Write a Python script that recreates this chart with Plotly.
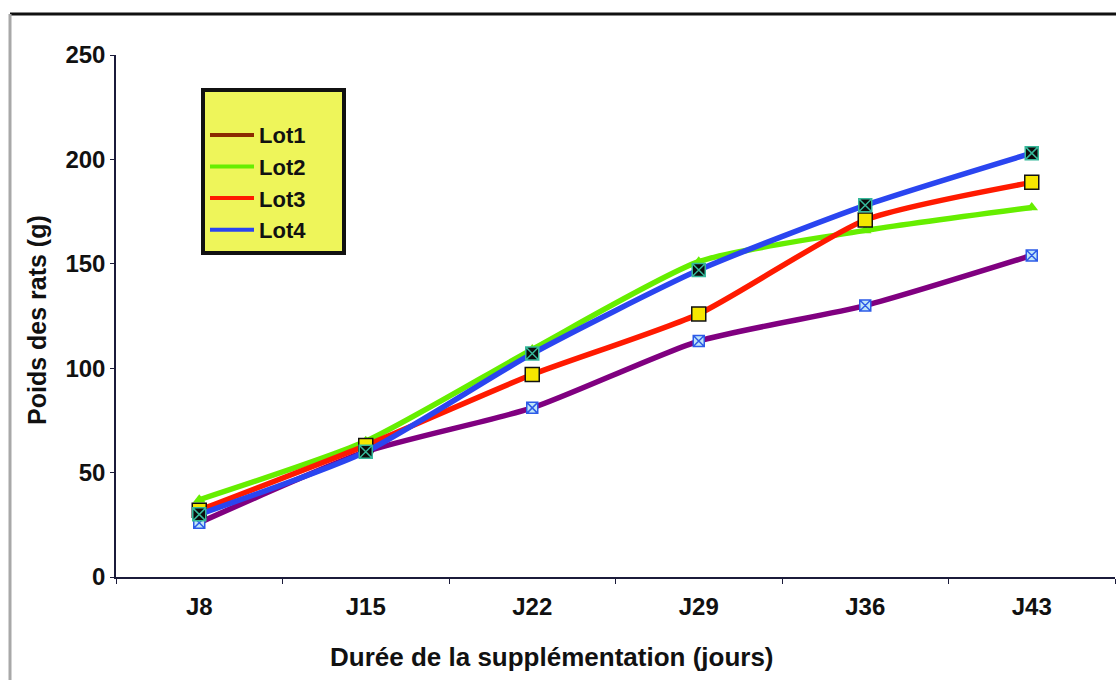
import plotly.graph_objects as go

# Weekly body weight of the rats per batch
days = ["J8", "J15", "J22", "J29", "J36", "J43"]
lot1 = [26, 60, 81, 113, 130, 154]
lot2 = [37, 65, 109, 151, 166, 177]
lot3 = [32, 63, 97, 126, 171, 189]
lot4 = [30, 60, 107, 147, 178, 203]
lot_names = ["Lot1", "Lot2", "Lot3", "Lot4"]
legend_colors = ["#8B2A00", "#66EE00", "#FF1A00", "#2A45F0"]

FONT = "Liberation Sans Narrow, Arial Narrow, Liberation Sans, Arial, sans-serif"
INK = "#111111"

fig = go.Figure()

series = [
    (lot1, "#800080", dict(symbol="square-x", size=11, color="#BFE6F7",
                             line=dict(color="#2D5BE8", width=1.5))),
    (lot2, "#66EE00", dict(symbol="triangle-up", size=11, color="#66EE00",
                             line=dict(color="#66EE00", width=0))),
    (lot3, "#FF1A00", dict(symbol="square", size=14, color="#F6E600",
                             line=dict(color=INK, width=1.5))),
    (lot4, "#2A45F0", dict(symbol="square-x", size=13, color="#0B0B0B",
                             line=dict(color="#36B89A", width=1.5))),
]

for vals, col, mk in series:
    fig.add_trace(go.Scatter(
        x=days, y=vals, mode="lines+markers",
        line=dict(color=col, width=5.5, shape="spline", smoothing=0.6),
        marker=mk, showlegend=False, hoverinfo="skip",
    ))

# legend entries (line samples only)
for name, col in zip(lot_names, legend_colors):
    fig.add_trace(go.Scatter(
        x=[None], y=[None], mode="lines", name=name,
        line=dict(color=col, width=4), legendgroup=name, showlegend=True,
    ))

L, R, T, B = 116, 1, 55, 103
W, H = 1116, 680
pw, ph = W - L - R, H - T - B


def px_x(px):
    return (px - L) / pw


def px_y(py):
    return (H - B - py) / ph


# blank header row that gives the legend box its padding
legend_pad = "&nbsp;" * 28

fig.update_layout(
    width=W, height=H,
    margin=dict(l=L, r=R, t=T, b=B),
    paper_bgcolor="white", plot_bgcolor="white",
    font=dict(family=FONT, size=22, color=INK, weight="bold"),
    legend=dict(
        x=px_x(201), y=px_y(88), xanchor="left", yanchor="top",
        bgcolor="#EEF55A", bordercolor=INK, borderwidth=4,
        font=dict(family=FONT, size=22, color=INK, weight="bold"),
        title=dict(text=legend_pad, font=dict(size=17)),
        itemwidth=44, tracegroupgap=0,
    ),
    xaxis=dict(
        type="category", showgrid=False, zeroline=False,
        showline=True, linecolor="#1B1B3A", linewidth=2,
        ticks="outside", tickson="boundaries", ticklen=5,
        tickcolor="#1B1B3A", ticklabelstandoff=7,
        tickfont=dict(family=FONT, size=24, color=INK, weight="bold"),
        range=[-0.5, 5.5],
    ),
    yaxis=dict(
        range=[0, 250], dtick=50, showgrid=False, zeroline=False,
        showline=True, linecolor="#1B1B3A", linewidth=1.5,
        ticks="outside", ticklen=4, tickcolor="#1B1B3A",
        tickfont=dict(family=FONT, size=24, color=INK, weight="bold"),
    ),
    annotations=[
        dict(text="Poids des rats (g)", textangle=-90,
             xref="paper", yref="paper", x=px_x(37), y=px_y(320),
             xanchor="center", yanchor="middle", showarrow=False,
             font=dict(family=FONT, size=25, color=INK, weight="bold")),
        dict(text="Durée de la supplémentation (jours)",
             xref="paper", yref="paper", x=px_x(552), y=px_y(657),
             xanchor="center", yanchor="middle", showarrow=False,
             font=dict(family=FONT, size=26, color=INK, weight="bold")),
    ],
    shapes=[
        dict(type="line", xref="paper", yref="paper",
             x0=px_x(10), x1=px_x(1116), y0=px_y(14), y1=px_y(14),
             line=dict(color=INK, width=3)),
        dict(type="line", xref="paper", yref="paper",
             x0=px_x(10), x1=px_x(10), y0=px_y(14), y1=px_y(680),
             line=dict(color="#A8A8A8", width=3)),
    ],
)

fig.write_html("out.html")
